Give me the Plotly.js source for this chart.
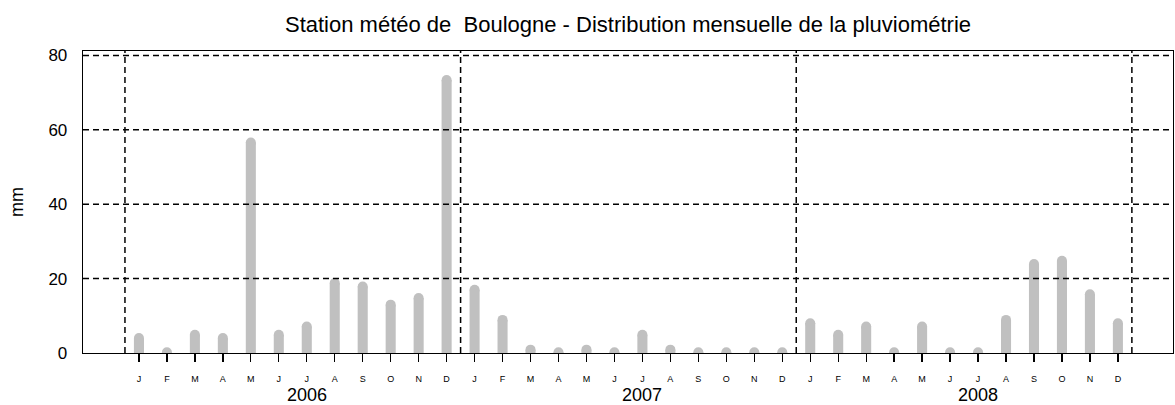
<!DOCTYPE html>
<html><head><meta charset="utf-8">
<script src="https://cdn.plot.ly/plotly-3.0.1.min.js"></script>
<style>html,body{margin:0;padding:0;background:#fff}#chart{width:1175px;height:405px}</style>
</head><body><div id="chart"></div>
<script>
const years = ['2006', '2007', '2008'];
const monthLetters = ['J', 'F', 'M', 'A', 'M', 'J', 'J', 'A', 'S', 'O', 'N', 'D'];
const rain2006 = [4.0, 0.2, 4.9, 4.0, 56.6, 4.9, 7.1, 18.8, 17.9, 13.0, 14.8, 73.4];
const rain2007 = [17.0, 8.9, 0.9, 0.2, 0.9, 0.2, 4.9, 0.9, 0.2, 0.2, 0.2, 0.2];
const rain2008 = [8.0, 4.9, 7.1, 0.2, 7.1, 0.2, 0.2, 8.9, 23.9, 24.8, 15.8, 8.0];
const yTickVals = [0, 20, 40, 60, 80];

const values = [...rain2006, ...rain2007, ...rain2008];
const idx = values.map((_, i) => i);
const tickText = years.flatMap(() => monthLetters);
const barColor = '#c0c0c0';
const dashStyle = '6px,4px';

const bars = {
  type: 'bar', x: idx, y: values, width: 0.36,
  marker: {color: barColor, line: {width: 0}},
  hoverinfo: 'skip', showlegend: false
};
const caps = {
  type: 'scatter', mode: 'markers', x: idx, y: values,
  marker: {color: barColor, size: 10, line: {width: 0}},
  hoverinfo: 'skip', showlegend: false
};

const shapes = [];
yTickVals.filter(v => v > 0).forEach(v => shapes.push({
  type: 'line', xref: 'paper', x0: 0, x1: 1, yref: 'y', y0: v, y1: v,
  line: {color: '#000', width: 1.5, dash: dashStyle}, layer: 'above'
}));
for (let k = 0; k <= years.length; k++) {
  const xb = k * monthLetters.length - 0.5;
  shapes.push({
    type: 'line', xref: 'x', x0: xb, x1: xb, yref: 'paper', y0: 0, y1: 1,
    line: {color: '#000', width: 1.5, dash: dashStyle}, layer: 'above'
  });
}

const layout = {
  width: 1175, height: 405,
  margin: {l: 83, r: 2, t: 51, b: 52, pad: 0},
  paper_bgcolor: '#fff', plot_bgcolor: '#fff',
  font: {family: 'Liberation Sans, Arial, sans-serif', color: '#000'},
  title: {
    text: 'Station météo de \u00a0Boulogne - Distribution mensuelle de la pluviométrie',
    font: {size: 22, color: '#000'}, x: 0.5, xref: 'paper', xanchor: 'center',
    y: 0.94, yref: 'container', yanchor: 'middle'
  },
  showlegend: false,
  xaxis: {
    range: [-2.0, 36.97], tickmode: 'array', tickvals: idx, ticktext: tickText,
    ticks: 'outside', ticklen: 8, tickwidth: 1.3, tickcolor: '#000',
    tickfont: {size: 9}, ticklabelstandoff: 9,
    showgrid: false, showline: true, linecolor: '#000', linewidth: 1.3, mirror: true,
    zeroline: false, fixedrange: true
  },
  yaxis: {
    range: [0, 81.2], tickmode: 'array', tickvals: yTickVals, ticks: '',
    tickfont: {size: 17}, ticklabelstandoff: 11,
    showgrid: false, showline: true, linecolor: '#000', linewidth: 1.3, mirror: true,
    zeroline: false, fixedrange: true,
    title: {text: 'mm', font: {size: 18}, standoff: 20}
  },
  shapes: shapes,
  annotations: years.map((y, k) => ({
    text: y, x: k * monthLetters.length + 6, xref: 'x', y: 0, yref: 'paper',
    yshift: -42, yanchor: 'middle', xanchor: 'center', showarrow: false, font: {size: 18}
  }))
};

Plotly.newPlot('chart', [bars, caps], layout, {staticPlot: true, displayModeBar: false});
</script>
</body></html>
